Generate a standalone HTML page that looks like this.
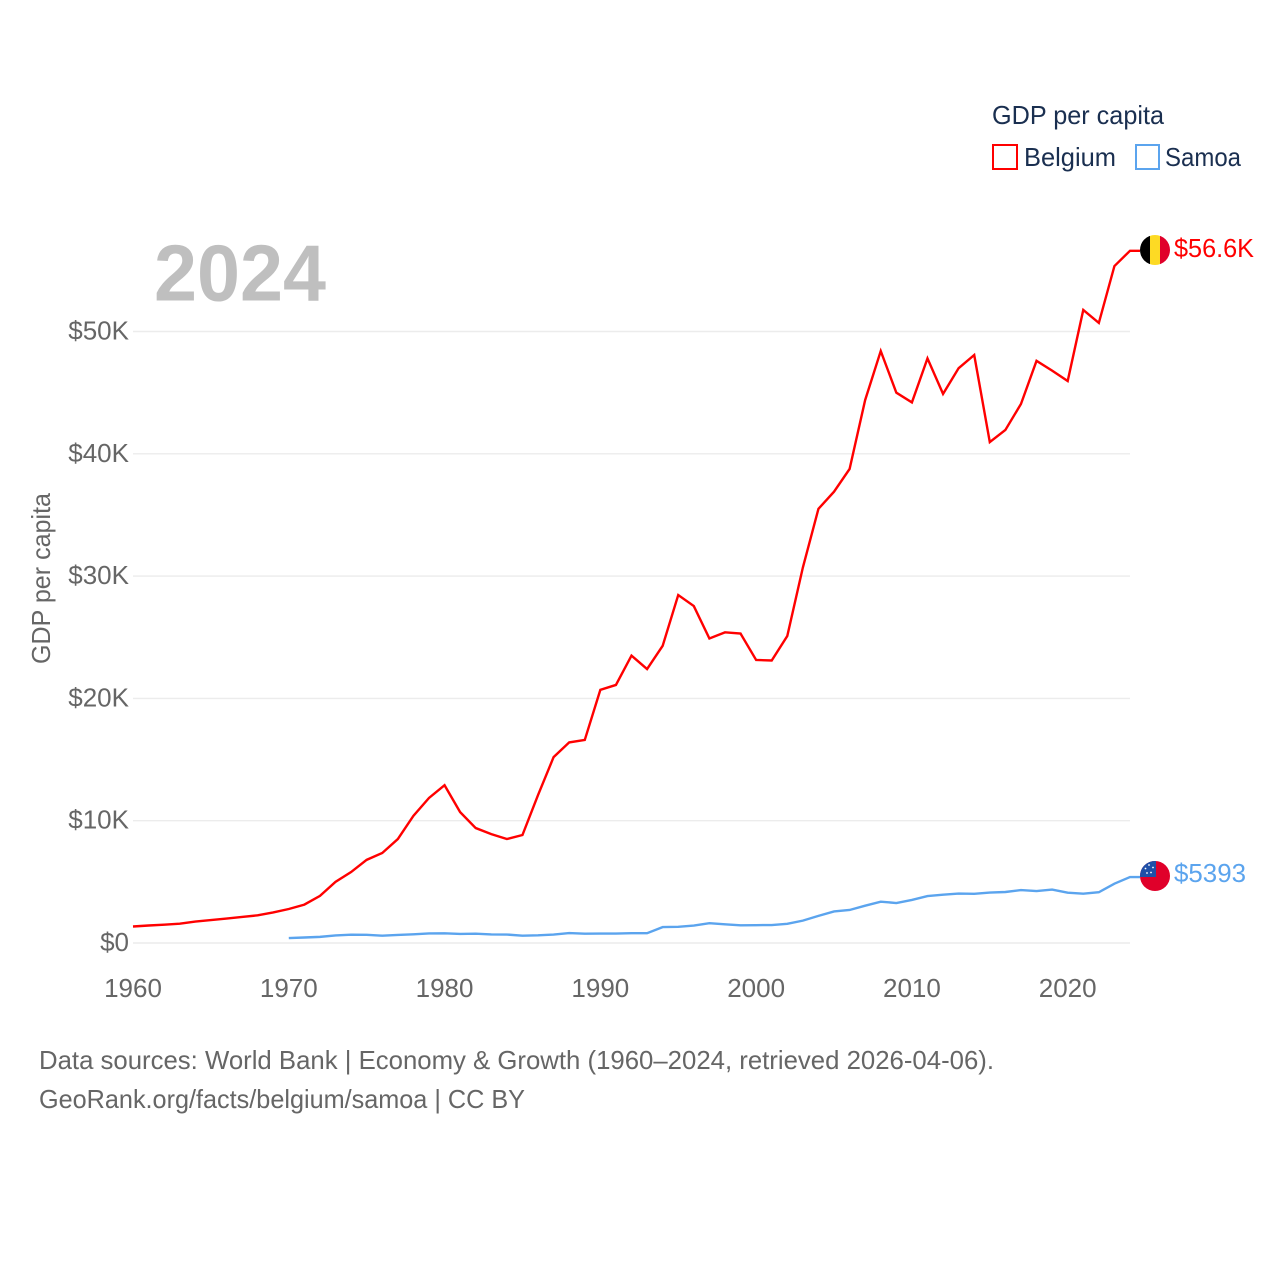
<!DOCTYPE html>
<html lang="en">
<head>
<meta charset="utf-8">
<title>GDP per capita: Belgium and Samoa</title>
<style>
html,body{margin:0;padding:0;background:#fff;}
svg{display:block;font-family:"Liberation Sans",sans-serif;}
</style>
</head>
<body>
<svg id="chart" width="1280" height="1280" viewBox="0 0 1280 1280" xmlns="http://www.w3.org/2000/svg">
  <defs>
    <clipPath id="flag-clip-be"><circle cx="1155" cy="250" r="15"/></clipPath>
    <clipPath id="flag-clip-ws"><circle cx="1155" cy="876" r="15"/></clipPath>
  </defs>
  <g id="grid"></g>
  <g id="yticks"></g>
  <g id="xticks"></g>
  <text x="154" y="300.5" font-size="80" font-weight="700" fill="#bfbfbf" textLength="172" lengthAdjust="spacingAndGlyphs">2024</text>
  <text transform="translate(50,664) rotate(-90)" font-size="26" fill="#666" textLength="171" lengthAdjust="spacingAndGlyphs">GDP per capita</text>
  <g id="series"></g>

  <g>
    <text x="992" y="124" font-size="26" fill="#1a2f50" textLength="172" lengthAdjust="spacingAndGlyphs">GDP per capita</text>
    <rect x="993" y="145" width="24" height="24" fill="none" stroke="#ff0000" stroke-width="2"/>
    <text x="1024" y="166" font-size="26" fill="#1a2f50" textLength="92" lengthAdjust="spacingAndGlyphs">Belgium</text>
    <rect x="1136" y="145" width="23" height="24" fill="none" stroke="#5ba4ee" stroke-width="2"/>
    <text x="1165" y="166" font-size="26" fill="#1a2f50" textLength="76" lengthAdjust="spacingAndGlyphs">Samoa</text>
  </g>

  <g clip-path="url(#flag-clip-be)">
    <rect x="1140" y="235" width="10" height="30" fill="#000"/>
    <rect x="1150" y="235" width="10" height="30" fill="#fdda24"/>
    <rect x="1160" y="235" width="10" height="30" fill="#e0002a"/>
  </g>
  <text x="1174" y="257" font-size="26" fill="#ff0000" textLength="80" lengthAdjust="spacingAndGlyphs">$56.6K</text>

  <g clip-path="url(#flag-clip-ws)">
    <rect x="1140" y="861" width="30" height="30" fill="#e0002a"/>
    <rect x="1140" y="861" width="16" height="16" fill="#1f50a8"/>
    <circle cx="1149" cy="865" r="0.9" fill="#fff"/>
    <circle cx="1153" cy="867.5" r="0.9" fill="#fff"/>
    <circle cx="1145.5" cy="868.5" r="0.9" fill="#fff"/>
    <circle cx="1151" cy="872.5" r="0.9" fill="#fff"/>
    <circle cx="1147" cy="873" r="0.9" fill="#fff"/>
  </g>
  <text x="1174" y="882" font-size="26" fill="#5ba4ee" textLength="72" lengthAdjust="spacingAndGlyphs">$5393</text>

  <text x="39" y="1069" font-size="26" fill="#666" textLength="955" lengthAdjust="spacingAndGlyphs">Data sources: World Bank | Economy &amp; Growth (1960–2024, retrieved 2026-04-06).</text>
  <text x="39" y="1108" font-size="26" fill="#666" textLength="486" lengthAdjust="spacingAndGlyphs">GeoRank.org/facts/belgium/samoa | CC BY</text>
</svg>

<script>
var yTickValues = [0, 10, 20, 30, 40, 50];
var yTickLabels = ["$0", "$10K", "$20K", "$30K", "$40K", "$50K"];
var xTickValues = [1960, 1970, 1980, 1990, 2000, 2010, 2020];
var xTickLabels = ["1960", "1970", "1980", "1990", "2000", "2010", "2020"];
var belgiumStartYear = 1960;
var belgiumValues = [1.35,1.43,1.5,1.58,1.75,1.88,2.0,2.13,2.26,2.5,2.78,3.14,3.85,5.0,5.8,6.8,7.36,8.5,10.4,11.86,12.9,10.7,9.4,8.9,8.5,8.83,12.1,15.2,16.4,16.6,20.7,21.1,23.5,22.4,24.3,28.45,27.55,24.9,25.4,25.3,23.14,23.1,25.1,30.7,35.5,36.9,38.76,44.4,48.4,45.0,44.2,47.8,44.9,47.0,48.08,40.96,41.95,44.07,47.6,46.8,45.95,51.76,50.7,55.35,56.6];
var samoaStartYear = 1970;
var samoaValues = [0.4,0.45,0.5,0.62,0.68,0.67,0.6,0.66,0.71,0.78,0.79,0.74,0.76,0.7,0.69,0.6,0.63,0.69,0.81,0.76,0.77,0.77,0.8,0.8,1.3,1.32,1.43,1.62,1.53,1.45,1.46,1.47,1.57,1.83,2.22,2.58,2.7,3.05,3.38,3.27,3.52,3.84,3.95,4.04,4.02,4.12,4.17,4.33,4.25,4.37,4.11,4.03,4.15,4.85,5.39];

var SVG_NS = "http://www.w3.org/2000/svg";
function xScale(year) { return 133 + (year - 1960) * (1130 - 133) / 64; }
function yScale(v) { return 943 - v * 12.23; }

var grid = document.getElementById('grid');
var yticks = document.getElementById('yticks');
yTickValues.forEach(function (v, i) {
  var line = document.createElementNS(SVG_NS, 'line');
  
  
  line.setAttribute('x1', 133);
  line.setAttribute('x2', 1130);
  line.setAttribute('y1', yScale(v));
  line.setAttribute('y2', yScale(v));
  line.setAttribute('stroke', '#ececec');
  line.setAttribute('stroke-width', 1.4);
  grid.appendChild(line);

  var t = document.createElementNS(SVG_NS, 'text');
  
  
  t.setAttribute('x', 129);
  t.setAttribute('y', yScale(v) + 8);
  t.setAttribute('text-anchor', 'end');
  t.setAttribute('font-size', 26);
  t.setAttribute('fill', '#666');
  t.textContent = yTickLabels[i];
  yticks.appendChild(t);
});

var xticks = document.getElementById('xticks');
xTickValues.forEach(function (yr, i) {
  var t = document.createElementNS(SVG_NS, 'text');
  
  
  t.setAttribute('x', xScale(yr));
  t.setAttribute('y', 997);
  t.setAttribute('text-anchor', 'middle');
  t.setAttribute('font-size', 26);
  t.setAttribute('fill', '#666');
  t.textContent = xTickLabels[i];
  xticks.appendChild(t);
});

function drawSeries(name, values, startYear, color) {
  var d = values.map(function (v, i) {
    return (i ? 'L' : 'M') + xScale(startYear + i).toFixed(2) + ' ' + yScale(v).toFixed(2);
  }).join(' ');
  var lastV = values[values.length - 1];
  d += ' L1140 ' + yScale(lastV).toFixed(2);
  var p = document.createElementNS(SVG_NS, 'path');
  
  
  p.setAttribute('d', d);
  p.setAttribute('fill', 'none');
  p.setAttribute('stroke', color);
  p.setAttribute('stroke-width', 2.4);
  p.setAttribute('stroke-linejoin', 'miter');
  document.getElementById('series').appendChild(p);
}
drawSeries('belgium-line', belgiumValues, belgiumStartYear, '#ff0000');
drawSeries('samoa-line', samoaValues, samoaStartYear, '#5ba4ee');
</script>
</body>
</html>
